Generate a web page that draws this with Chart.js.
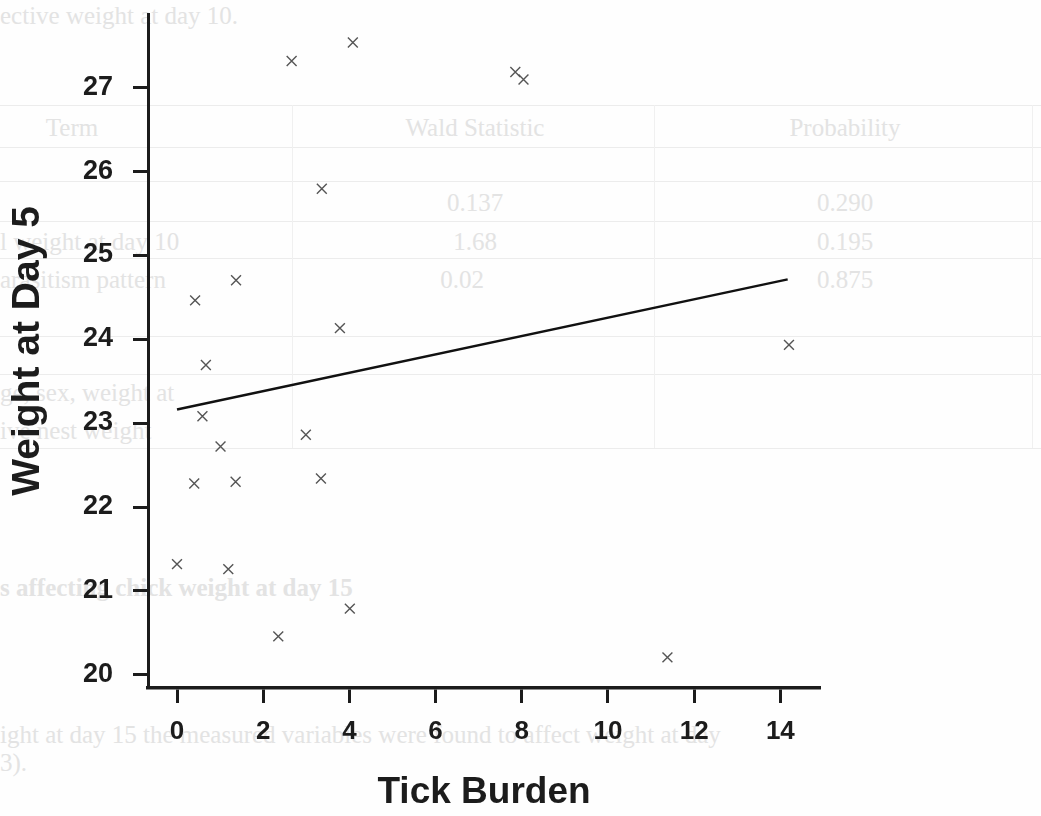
<!DOCTYPE html>
<html>
<head>
<meta charset="utf-8">
<script src="https://cdn.jsdelivr.net/npm/chart.js@4.4.1/dist/chart.umd.min.js"></script>
<style>
  html, body { margin: 0; padding: 0; background: #fefefe; overflow: hidden; }
  #wrap { position: relative; width: 1041px; height: 816px; }
  #bg { position: absolute; left: 0; top: 0; width: 1041px; height: 816px; font-family: "Liberation Serif", "Times New Roman", serif; color: #e3e3e3; }
  #bg .t { position: absolute; white-space: nowrap; font-size: 25px; line-height: 1; }
  #bg .c { transform: translateX(-50%); }
  #bg .h { position: absolute; height: 1px; background: #ececec; left: 0; width: 1041px; }
  #bg .v { position: absolute; width: 1px; background: #f0f0f0; }
  canvas { position: absolute; left: 0; top: 0; }
</style>
</head>
<body>
<div id="wrap">
  <div id="bg">
    <div class="t" style="left:0;top:3px;">ective weight at day 10.</div>
    <div class="h" style="top:105px"></div>
    <div class="h" style="top:147px"></div>
    <div class="h" style="top:181px"></div>
    <div class="h" style="top:221px"></div>
    <div class="h" style="top:258px"></div>
    <div class="h" style="top:336px"></div>
    <div class="h" style="top:374px"></div>
    <div class="h" style="top:448px"></div>
    <div class="v" style="left:292px;top:105px;height:343px"></div>
    <div class="v" style="left:654px;top:105px;height:343px"></div>
    <div class="v" style="left:1032px;top:105px;height:343px"></div>
    <div class="t c" style="left:72px;top:115px;">Term</div>
    <div class="t c" style="left:475px;top:115px;">Wald Statistic</div>
    <div class="t c" style="left:845px;top:115px;">Probability</div>
    <div class="t c" style="left:475px;top:190px;">0.137</div>
    <div class="t c" style="left:845px;top:190px;">0.290</div>
    <div class="t" style="left:0;top:229px;">l weight at day 10</div>
    <div class="t c" style="left:475px;top:229px;">1.68</div>
    <div class="t c" style="left:845px;top:229px;">0.195</div>
    <div class="t" style="left:0;top:267px;">arasitism  pattern</div>
    <div class="t c" style="left:462px;top:267px;">0.02</div>
    <div class="t c" style="left:845px;top:267px;">0.875</div>
    <div class="t" style="left:0;top:380px;">ge, sex, weight at</div>
    <div class="t" style="left:0;top:418px;">ive nest weight</div>
    <div class="t" style="left:0;top:575px;font-weight:bold;">s affecting chick weight at day 15</div>
    <div class="t" style="left:0;top:722px;">ight at day 15 the measured variables were found to affect weight at day</div>
    <div class="t" style="left:0;top:750px;">3).</div>
  </div>
  <canvas id="chart" width="1041" height="816"></canvas>
</div>
<script>
// ---- data ----
const tickBurden = [0.00, 0.42, 0.40, 0.59, 0.67, 1.01, 1.19, 1.37, 1.36, 2.35, 2.66, 2.99, 3.36, 3.34, 3.78, 4.01, 4.08, 7.85, 8.04, 11.38, 14.20];
const weightDay5 = [21.32, 24.46, 22.28, 23.08, 23.69, 22.72, 21.26, 24.70, 22.30, 20.46, 27.31, 22.86, 25.79, 22.34, 24.13, 20.79, 27.53, 27.18, 27.09, 20.21, 23.93];
const fitX = [0.00, 14.17];
const fitY = [23.16, 24.71];
const xTickValues = [0, 2, 4, 6, 8, 10, 12, 14];
const yTickValues = [20, 21, 22, 23, 24, 25, 26, 27];
const xTitle = 'Tick Burden';
const yTitle = 'Weight at Day 5';

const FONT = '"Liberation Sans", Arial, Helvetica, sans-serif';
const INK = '#1c1c1c';

const points = tickBurden.map((x, i) => ({ x: x, y: weightDay5[i] }));
const fitLine = fitX.map((x, i) => ({ x: x, y: fitY[i] }));

new Chart(document.getElementById('chart'), {
  type: 'scatter',
  data: {
    datasets: [
      {
        label: 'fit',
        data: fitLine,
        showLine: true,
        borderColor: '#111',
        borderWidth: 2.5,
        pointRadius: 0,
        fill: false,
        tension: 0
      },
      {
        label: 'observed',
        data: points,
        pointStyle: 'crossRot',
        pointRadius: 7,
        borderColor: '#555',
        backgroundColor: '#555',
        borderWidth: 1.4,
        showLine: false
      }
    ]
  },
  options: {
    responsive: false,
    animation: false,
    devicePixelRatio: 1,
    layout: { padding: { top: 14, right: 221, left: 0, bottom: 0 } },
    plugins: { legend: { display: false }, tooltip: { enabled: false } },
    scales: {
      x: {
        type: 'linear',
        position: 'bottom',
        min: -0.673,
        max: 14.92,
        afterBuildTicks: s => { s.ticks = xTickValues.map(v => ({ value: v })); },
        afterFit: s => { s.height = 128; s.paddingLeft = 0; s.paddingRight = 0; },
        grid: { display: true, drawOnChartArea: false, drawTicks: true, tickLength: 15, tickWidth: 3, tickColor: INK },
        border: { display: true, width: 3.5, color: INK },
        ticks: { font: { family: FONT, weight: 'bold', size: 26 }, color: INK, padding: 13, maxRotation: 0, autoSkip: false },
        title: { display: true, text: xTitle, color: INK, font: { family: FONT, weight: 'bold', size: 37, lineHeight: 1 }, padding: { top: 0, bottom: 5 } }
      },
      y: {
        type: 'linear',
        position: 'left',
        min: 19.845,
        max: 27.87,
        afterBuildTicks: s => { s.ticks = yTickValues.map(v => ({ value: v })); },
        afterFit: s => { s.width = 148; s.paddingTop = 0; s.paddingBottom = 0; },
        grid: { display: true, drawOnChartArea: false, drawTicks: true, tickLength: 15, tickWidth: 3, tickColor: INK },
        border: { display: true, width: 3, color: INK },
        ticks: { font: { family: FONT, weight: 'bold', size: 27 }, color: INK, padding: 20, autoSkip: false },
        title: { display: true, text: yTitle, color: INK, font: { family: FONT, weight: 'bold', size: 39, lineHeight: 1 }, padding: { top: 8.5, bottom: 0 } }
      }
    }
  }
});
</script>
</body>
</html>
